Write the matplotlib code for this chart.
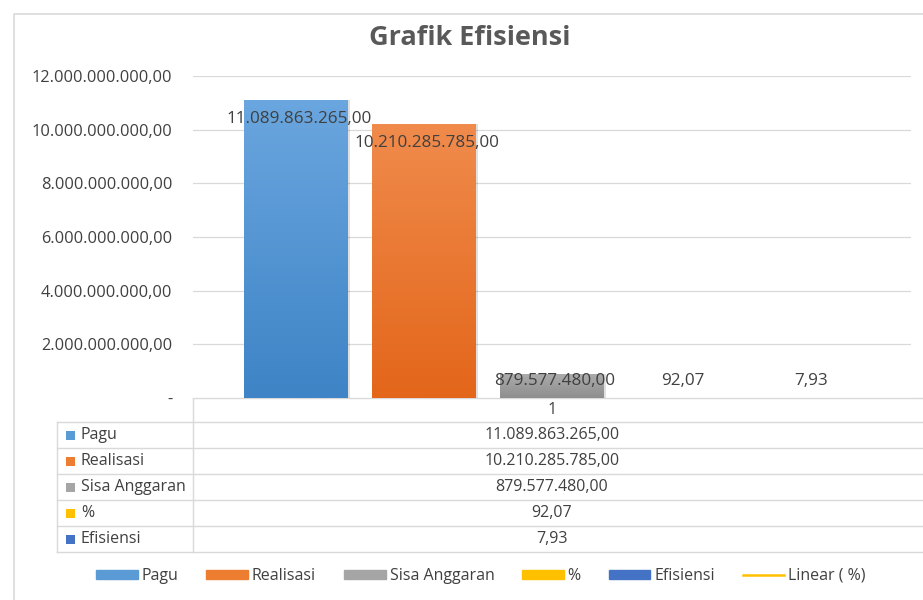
import numpy as np
import matplotlib.pyplot as plt
from matplotlib.patches import Rectangle
from matplotlib.lines import Line2D
from matplotlib.colors import LinearSegmentedColormap

# data
series = ['Pagu', 'Realisasi', 'Sisa Anggaran', '%', 'Efisiensi']
values = [11089863265.00, 10210285785.00, 879577480.00, 92.07, 7.93]
category = ['1']
colors = ['#5B9BD5', '#ED7D31', '#A5A5A5', '#FFC000', '#4472C4']
top_col = ['#6AA6DF', '#F08B4C', '#ABABAB', '#FFC000', '#4472C4']
bot_col = ['#3E84C6', '#E3661A', '#8E8E8E', '#FFC000', '#4472C4']
yticks = np.arange(0, 12e9 + 1, 2e9)


def fmt(v):
    s = '{:,.2f}'.format(v)
    return s.replace(',', 'X').replace('.', ',').replace('X', '.')


W, H = 923, 600
fig = plt.figure(figsize=(W / 100, H / 100), dpi=100)
plt.rcParams['font.family'] = ['Open Sans', 'DejaVu Sans']
txt = '#404040'

# plot area in pixels: x 193..911, y 76..398
x0, x1, yt, yb = 193, 911, 76, 398
ax = fig.add_axes([x0 / W, 1 - yb / H, (x1 - x0) / W, (yb - yt) / H])
ax.set_xlim(0, 1)
ax.set_ylim(0, 12e9)
ax.set_yticks(yticks)
ax.set_yticklabels(['-'] + [fmt(v) for v in yticks[1:]], fontsize=11.8, color=txt)
ax.tick_params(axis='y', length=0, pad=15)
ax.set_xticks([])
for s in ax.spines.values():
    s.set_visible(False)
ax.grid(axis='y', color='#D9D9D9', lw=0.9)
ax.set_axisbelow(True)

# bars: 5 bars, width 104px, step 128px
ppx = 1 / (x1 - x0)
bw = 104 * ppx
step = 128 * ppx
ppu = (yb - yt) / 12e9
for i, (v, c) in enumerate(zip(values, colors)):
    cx = 0.5 + (i - 2) * step
    # shadow
    ax.add_patch(Rectangle((cx - bw / 2 + 2 * ppx, 0), bw, v, color='#000000',
                           alpha=0.12, lw=0, zorder=2))
    bar = ax.bar(cx, v, width=bw, color=c, zorder=3, lw=0)[0]
    if v > 1e6:
        grad = np.linspace(0, 1, 256).reshape(-1, 1)
        cm = LinearSegmentedColormap.from_list('g', [bot_col[i], top_col[i]])
        im = ax.imshow(grad, cmap=cm, aspect='auto', origin='lower',
                       extent=(cx - bw / 2, cx + bw / 2, 0, v), zorder=3)
        im.set_clip_path(bar)
    ylab = max(v - 19 / ppu, 17 / ppu)
    ax.text(cx + 3 * ppx, ylab, fmt(v), ha='center', va='center', fontsize=12.3,
            color=txt, zorder=5)

# title
fig.text(470 / W, 1 - 38 / H, 'Grafik Efisiensi', ha='center', va='center',
         fontsize=19.5, fontweight='bold', color='#595959')

# overlay for table, border, legend
ov = fig.add_axes([0, 0, 1, 1], zorder=-1)
ov.set_xlim(0, W)
ov.set_ylim(H, 0)
ov.axis('off')
ov.plot([14, 14, W], [H, 14, 14], color='#D9D9D9', lw=1.2)

lc = '#D9D9D9'
ov.plot([193, W], [398, 398], color=lc, lw=1)
ov.plot([193, 193], [398, 552], color=lc, lw=1)
ov.plot([57, 57], [422, 552], color=lc, lw=1)
rows = [422, 448, 474, 500, 526, 552]
for r in rows:
    ov.plot([57, W], [r, r], color=lc, lw=1)
ov.text(552, 410, category[0], ha='center', va='center', fontsize=11.5, color=txt)
for i, name in enumerate(series):
    yc = (rows[i] + rows[i + 1]) / 2
    ov.add_patch(Rectangle((66, yc - 4.5), 9, 9, color=colors[i], lw=0))
    ov.text(81, yc, name, ha='left', va='center', fontsize=11.5, color=txt)
    ov.text(552, yc, fmt(values[i]), ha='center', va='center', fontsize=11.5, color=txt)

# legend
handles = [Rectangle((0, 0), 1, 1, color=c) for c in colors]
handles.append(Line2D([0], [0], color='#FFC000', lw=1.8))
labels = series + ['Linear ( %)']
fig.legend(handles, labels, loc='center', bbox_to_anchor=(481 / W, 1 - 576 / H),
           ncol=6, frameon=False, fontsize=11.5, handlelength=2.6, handleheight=0.5,
           handletextpad=0.25, columnspacing=1.75, labelcolor=txt)

fig.savefig('out.png', dpi=100)
